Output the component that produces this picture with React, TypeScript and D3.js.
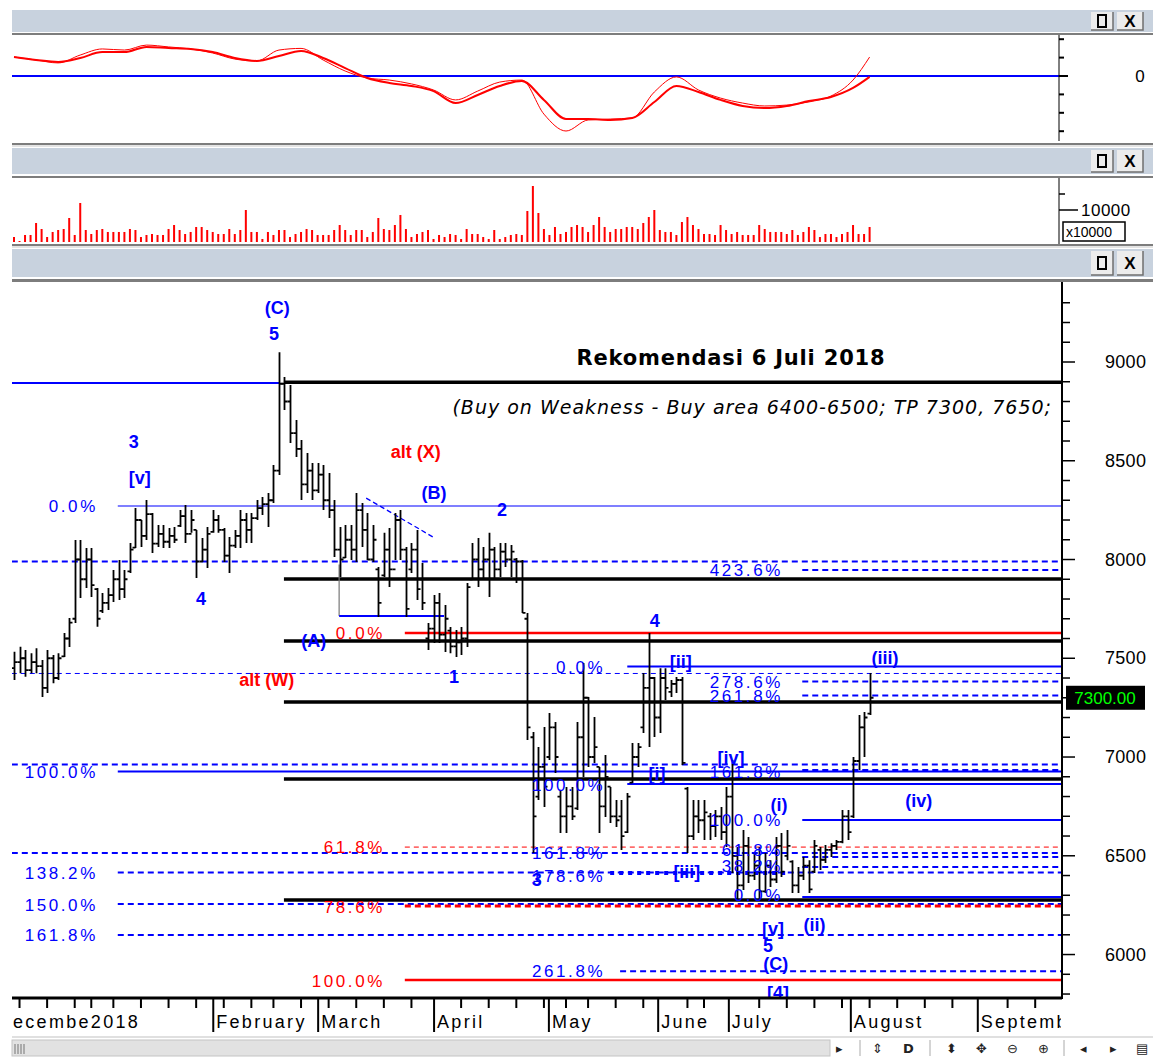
import React from "react";
import * as d3 from "d3";

// daily bars, Dec 2017 .. Aug 2018 (index = trading day)
const highs = [
  7533, 7558, 7542, 7526, 7551, 7491, 7542, 7516, 7526, 7628,
  7704, 8099, 8099, 8058, 8058, 7856, 7830, 7856, 7947, 7997,
  7947, 8084, 8261, 8200, 8301, 8236, 8175, 8175, 8160, 8165,
  8251, 8276, 8251, 8150, 8109, 8165, 8251, 8226, 8160, 8114,
  8150, 8251, 8236, 8236, 8301, 8316, 8337, 8478, 9050, 8924,
  8884, 8706, 8605, 8539, 8489, 8489, 8478, 8438, 8301, 8165,
  8175, 8175, 8337, 8286, 8236, 8175, 7962, 8135, 8160, 8236,
  8251, 8063, 8084, 8150, 7982, 7679, 7820, 7830, 7770, 7658,
  7643, 7658, 7881, 8084, 8109, 8063, 8135, 8063, 8084, 8084,
  8073, 8008, 7997, 7729, 7127, 7051, 7152, 7223, 7177, 6833,
  6848, 6848, 7177, 7476, 7304, 7203, 6950, 7010, 6848, 6782,
  6782, 6818, 7071, 7071, 7425, 7628, 7405, 7450, 7450, 7390,
  7405, 7405, 6848, 6782, 6782, 6782, 6716, 6732, 6747, 6848,
  6985, 6544, 6630, 6595, 6514, 6544, 6514, 6478, 6595, 6615,
  6630, 6478, 6443, 6494, 6478, 6580, 6544, 6554, 6564, 6580,
  6732, 6732, 7000, 7213, 7228, 7425,
];
const lows = [
  7390, 7424, 7407, 7424, 7424, 7304, 7324, 7374, 7390, 7506,
  7557, 7679, 7805, 7856, 7810, 7659, 7729, 7744, 7785, 7795,
  7805, 7932, 8058, 8063, 8099, 8033, 8063, 8058, 8058, 8084,
  8165, 8084, 8135, 7907, 7987, 7957, 8135, 8135, 7987, 7932,
  8058, 8058, 8084, 8084, 8200, 8226, 8165, 8286, 8428, 8757,
  8590, 8519, 8301, 8337, 8301, 8337, 8251, 8210, 8013, 7911,
  8008, 7997, 7987, 8063, 7997, 7987, 7709, 7911, 7861, 7997,
  7997, 7709, 7932, 7795, 7744, 7542, 7577, 7577, 7532, 7526,
  7506, 7516, 7557, 7896, 7861, 7896, 7810, 7896, 7911, 7962,
  7911, 7881, 7729, 7086, 6514, 6782, 6747, 6985, 6919, 6615,
  6615, 6681, 6732, 6899, 6950, 6970, 6615, 6696, 6666, 6646,
  6529, 6615, 6869, 6950, 7122, 7051, 7102, 7122, 7289, 7304,
  7324, 6960, 6514, 6580, 6615, 6580, 6580, 6595, 6580, 6544,
  6413, 6276, 6327, 6362, 6377, 6276, 6311, 6342, 6362, 6392,
  6478, 6311, 6311, 6377, 6311, 6413, 6428, 6463, 6494, 6529,
  6564, 6580, 6691, 6934, 7000, 7213,
];
const opens = [
  7450, 7480, 7500, 7440, 7480, 7460, 7350, 7500, 7400, 7510,
  7600, 7700, 8000, 7900, 8000, 7850, 7740, 7780, 7820, 7900,
  7850, 7940, 8060, 8200, 8120, 8230, 8080, 8130, 8090, 8120,
  8170, 8220, 8130, 8150, 7990, 8050, 8140, 8200, 8150, 8020,
  8070, 8120, 8200, 8150, 8210, 8260, 8280, 8300, 8450, 8890,
  8800, 8640, 8560, 8380, 8450, 8350, 8430, 8300, 8250, 8050,
  8010, 8100, 8050, 8250, 8150, 8000, 7950, 7920, 8050, 7950,
  8200, 8050, 7950, 8050, 7900, 7600, 7650, 7780, 7620, 7640,
  7560, 7580, 7600, 7900, 8000, 7950, 8000, 8050, 7950, 8040,
  8000, 8000, 7990, 7700, 7100, 6800, 6950, 7000, 7150, 6800,
  6700, 6750, 6740, 7100, 7300, 7000, 6950, 6750, 6850, 6700,
  6700, 6620, 6870, 7000, 7150, 7350, 7400, 7200, 7400, 7330,
  7370, 7390, 6840, 6600, 6700, 6680, 6700, 6650, 6700, 6620,
  6800, 6500, 6350, 6550, 6400, 6450, 6320, 6450, 6380, 6550,
  6500, 6470, 6350, 6400, 6450, 6420, 6530, 6480, 6530, 6550,
  6570, 6700, 6700, 6980, 7150, 7220,
];
const closes = [
  7480, 7500, 7440, 7480, 7460, 7350, 7500, 7400, 7500, 7600,
  7680, 8000, 7900, 8000, 7870, 7700, 7780, 7820, 7900, 7850,
  7900, 8050, 8200, 8120, 8230, 8080, 8130, 8090, 8120, 8100,
  8220, 8130, 8200, 7990, 8050, 8130, 8200, 8150, 8020, 8070,
  8120, 8200, 8150, 8210, 8260, 8280, 8300, 8450, 8890, 8800,
  8640, 8560, 8380, 8450, 8350, 8430, 8300, 8250, 8050, 8000,
  8100, 8050, 8250, 8150, 8000, 8100, 7780, 8050, 7950, 8200,
  8050, 7750, 8050, 7850, 7780, 7650, 7780, 7620, 7700, 7560,
  7580, 7600, 7860, 8000, 7950, 8000, 8050, 7950, 8040, 8000,
  8040, 7990, 7730, 7150, 6700, 6950, 6850, 7150, 7000, 6700,
  6750, 6700, 7100, 7300, 7000, 7050, 6750, 6900, 6700, 6680,
  6600, 6800, 7000, 7050, 7350, 7400, 7200, 7400, 7350, 7370,
  7390, 6970, 6600, 6700, 6680, 6720, 6650, 6700, 6620, 6800,
  6500, 6350, 6550, 6400, 6450, 6320, 6450, 6380, 6550, 6420,
  6550, 6350, 6400, 6450, 6330, 6550, 6480, 6530, 6550, 6570,
  6700, 6620, 6980, 7150, 7200, 7300,
];
const volumes = [
  1560, 310, 2190, 2190, 5940, 4060, 1560, 3130, 3750, 4060,
  7500, 2190, 12190, 3750, 2500, 3750, 4060, 3130, 3130, 3130,
  3130, 4060, 3750, 1560, 2190, 2500, 2190, 2190, 4060, 5310,
  3750, 2500, 3130, 4690, 4690, 3750, 3130, 2500, 2500, 4060,
  2500, 3750, 10000, 3130, 3130, 940, 3130, 2190, 3750, 3750,
  1560, 2500, 3130, 4060, 3750, 2190, 2190, 2190, 3750, 5310,
  3750, 2190, 3750, 3750, 1560, 3130, 7500, 4060, 3750, 5310,
  8440, 4060, 1560, 2500, 3130, 3750, 940, 2190, 1560, 2500,
  2190, 940, 4060, 2500, 2500, 1560, 940, 3750, 940, 1560,
  2190, 2500, 2190, 9690, 17500, 9060, 4060, 2190, 4690, 2500,
  3130, 4690, 5310, 4690, 3130, 5310, 7810, 4690, 3130, 4060,
  4060, 4690, 4690, 4060, 5940, 7810, 10000, 3750, 3130, 3130,
  2190, 6250, 7810, 5310, 4060, 2500, 2500, 2190, 5310, 3750,
  2500, 3130, 2190, 2190, 2190, 5310, 4060, 3130, 3130, 3130,
  2500, 3750, 2190, 3130, 4690, 3750, 1560, 2500, 2500, 1560,
  2500, 3130, 5310, 2500, 2500, 4690,
];

// oscillator, sampled every 4 bars
const oscIdx = [0, 4, 8, 12, 16, 20, 24, 28, 32, 36, 40, 44, 48, 52, 56, 60, 64, 68, 72, 76,
  80, 84, 88, 92, 96, 100, 104, 108, 112, 116, 120, 124, 128, 132, 136, 140, 144, 148, 152, 155];
const oscFast = [103, 87, 71, 114, 147, 141, 168, 158, 147, 125, 92, 82, 141, 150, 87, 27, -11, -22, -43, -76,
  -130, -82, -33, -22, -207, -299, -239, -234, -228, -87, -5, -76, -120, -147, -163, -158, -141, -109, -22, 103];
const oscSlow = [103, 87, 76, 98, 130, 130, 158, 152, 147, 130, 98, 82, 109, 136, 98, 43, -11, -38, -54, -82,
  -147, -103, -54, -27, -130, -234, -234, -239, -228, -141, -54, -87, -130, -163, -174, -163, -136, -114, -65, -5];
const oscTicks = [-300, -200, -100, 0, 100, 200];

const priceLabels = [6000, 6500, 7000, 7500, 8000, 8500, 9000];
const volTicks = [10000, 15000];

const monthLabels = ["February", "March", "April", "May", "June", "July", "August", "September"];
const monthStarts = [36.1, 55.1, 76.1, 96.9, 116.7, 129.5, 151.6, 174.6];
const weekTicks = [1, 6, 11, 14, 18, 23, 28, 33, 38, 43, 47, 52, 57, 62, 67, 72, 81, 86, 91, 96,
  100, 104, 109, 114, 122, 125, 135, 140, 145, 150, 155, 160, 165, 170, 180, 185];

// horizontal levels: price, from bar, to bar (null = right edge), kind
const levels: [number, number, number | null, string][] = [
  [8894, -0.4, 48.2, "blue2"],
  [8897, 48.9, null, "black"],
  [8271, 18.8, null, "blue1"],
  [7990, -0.4, null, "blueDash2"],
  [7947, 142.8, null, "blueDash2"],
  [7901, 48.9, null, "black"],
  [7628, 70.8, null, "red2"],
  [7587, 48.9, null, "black"],
  [7423, -0.4, null, "blueDash1"],
  [7458, 111.1, null, "blue2"],
  [7382, 142.8, null, "blueDash2"],
  [7311, 142.8, null, "blueDash2"],
  [7279, 48.9, null, "black"],
  [6962, -0.4, null, "blueDash2"],
  [6927, 18.8, null, "blue2"],
  [6934, 142.8, null, "blueDash2"],
  [6889, 48.9, null, "black"],
  [6863, 111.1, null, "blue2"],
  [6681, 142.8, null, "blue2"],
  [6544, 70.8, null, "redDash1"],
  [6514, -0.4, null, "blueDash2"],
  [6494, 142.8, null, "blueDash2"],
  [6443, 142.8, null, "blueDash2"],
  [6415, 18.8, null, "blueDash2"],
  [6413, 108, 140, "blueDot"],
  [6291, 142.8, null, "blue2"],
  [6276, 48.9, null, "black"],
  [6256, 18.8, null, "blueDash2"],
  [6246, 70.8, null, "redDash3"],
  [6099, 18.8, null, "blueDash2"],
  [5916, 109.8, null, "blueDash2"],
  [5871, 70.8, null, "red2"],
];

// fibonacci labels: text, right-edge bar, price, colour
const pctLabels: [string, number, number, string][] = [
  ["0.0%", 15.2, 8271, "b"],
  ["423.6%", 139.3, 7947, "b"],
  ["0.0%", 67.2, 7628, "r"],
  ["0.0%", 107.1, 7458, "b"],
  ["278.6%", 139.3, 7382, "b"],
  ["261.8%", 139.3, 7311, "b"],
  ["100.0%", 15.2, 6927, "b"],
  ["161.8%", 139.3, 6924, "b"],
  ["100.0%", 107.1, 6858, "b"],
  ["100.0%", 139.3, 6681, "b"],
  ["61.8%", 67.2, 6544, "r"],
  ["61.8%", 139.3, 6529, "b"],
  ["161.8%", 107.1, 6514, "b"],
  ["38.2%", 139.3, 6448, "b"],
  ["138.2%", 15.2, 6413, "b"],
  ["178.6%", 107.1, 6397, "b"],
  ["0.0%", 139.3, 6300, "b"],
  ["150.0%", 15.2, 6251, "b"],
  ["78.6%", 67.2, 6241, "r"],
  ["161.8%", 15.2, 6099, "b"],
  ["261.8%", 107.1, 5916, "b"],
  ["100.0%", 67.2, 5866, "r"],
];

// elliott wave marks: text, bar, price, colour
const waveLabels: [string, number, number, string][] = [
  ["(C)", 47.7, 9278, "b"], ["5", 47.1, 9142, "b"],
  ["3", 21.7, 8595, "b"], ["[v]", 22.8, 8413, "b"],
  ["4", 33.9, 7805, "b"], ["alt (X)", 72.8, 8549, "r"],
  ["(B)", 76.1, 8337, "b"], ["2", 88.4, 8251, "b"],
  ["(A)", 54.3, 7592, "b"], ["1", 79.7, 7410, "b"],
  ["alt (W)", 45.8, 7390, "r"], ["4", 116.1, 7693, "b"],
  ["[ii]", 120.8, 7486, "b"], ["(iii)", 157.8, 7506, "b"],
  ["[iv]", 129.9, 7000, "b"], ["[i]", 116.5, 6914, "b"],
  ["(iv)", 163.9, 6782, "b"], ["(i)", 138.6, 6762, "b"],
  ["[iii]", 121.9, 6418, "b"], ["3", 94.7, 6382, "b"],
  ["[v]", 137.5, 6134, "b"], ["5", 136.6, 6048, "b"],
  ["(C)", 138, 5957, "b"], ["[4]", 138.4, 5810, "b"],
  ["(ii)", 145, 6154, "b"],
];

const BLUE = "#0000ff";
const RED = "#ff0000";
const HEAD = "#c8d2de";
const SANS = "'Liberation Sans', Arial, sans-serif";
const VERD = "'DejaVu Sans', Verdana, sans-serif";

const styles: Record<string, { c: string; w: number; d?: string }> = {
  black: { c: "#000", w: 3.5 },
  blue2: { c: BLUE, w: 2 },
  blue1: { c: BLUE, w: 1.2 },
  blueDash2: { c: BLUE, w: 2, d: "6 4" },
  blueDash1: { c: BLUE, w: 1, d: "5 4" },
  red2: { c: RED, w: 2.5 },
  redDash1: { c: RED, w: 1, d: "5 4" },
  redDash3: { c: RED, w: 3, d: "6 4" },
  blueDot: { c: BLUE, w: 4, d: "4 5" },
};

function Header({ y, h }: { y: number; h: number }) {
  return (
    <g>
      <rect x={12} y={y} width={1141} height={h} fill={HEAD} />
      <rect x={1091} y={y + 2} width={22} height={h - 4} fill="#ececec" />
      <path d={`M1091,${y + h - 2}H1113V${y + 2}`} stroke="#6f6f6f" strokeWidth={1.5} fill="none" />
      <rect x={1098} y={y + h / 2 - 6} width={8} height={12} fill="none" stroke="#000" strokeWidth={2} />
      <rect x={1117} y={y + 2} width={26} height={h - 4} fill="#ececec" />
      <path d={`M1117,${y + h - 2}H1143V${y + 2}`} stroke="#6f6f6f" strokeWidth={1.5} fill="none" />
      <text x={1130} y={y + h / 2 + 6} textAnchor="middle" fontFamily={SANS} fontWeight="bold" fontSize={17}>X</text>
    </g>
  );
}

export default function App() {
  const x = d3.scaleLinear().domain([0, 155]).range([14, 869.6]);
  const yP = d3.scaleLinear().domain([5785, 9400]).range([997, 283]);
  const yO = d3.scaleLinear().domain([-300, 200]).range([131.2, 39.2]);
  const yV = d3.scaleLinear().domain([0, 10000]).range([242, 210]);
  const XR = 1061;

  const oscLine = (vals: number[]) =>
    d3.line<number>().curve(d3.curveMonotoneX).x((_, i) => x(oscIdx[i])).y((v) => yO(v))(vals) || "";

  const minorTicks = d3.range(5800, 9400, 100);

  return (
    <svg width={1153} height={1057} style={{ position: "absolute", left: 0, top: 0, background: "#fff" }}
      fontFamily={SANS}>
      <defs>
        <clipPath id="plot"><rect x={12} y={282} width={XR - 12} height={716} /></clipPath>
        <clipPath id="xax"><rect x={12} y={998} width={XR - 12} height={40} /></clipPath>
      </defs>

      {/* ---------- oscillator panel ---------- */}
      <Header y={10} h={22} />
      <rect x={12} y={33} width={1141} height={2} fill="#7d7d7d" />
      <line x1={12} x2={1059} y1={yO(0)} y2={yO(0)} stroke={BLUE} strokeWidth={2} />
      <path d={oscLine(oscSlow)} fill="none" stroke={RED} strokeWidth={2} />
      <path d={oscLine(oscFast)} fill="none" stroke={RED} strokeWidth={1} />
      <line x1={1059} x2={1059} y1={35} y2={141} stroke="#000" />
      {oscTicks.map((t) => (
        <line key={t} x1={1059} x2={t === 0 ? 1068 : 1064} y1={yO(t)} y2={yO(t)} stroke="#000" strokeWidth={2} />
      ))}
      <text x={1140} y={yO(0) + 6} textAnchor="middle" fontSize={17}>0</text>
      <rect x={12} y={143} width={1141} height={2} fill="#7d7d7d" />
      <rect x={12} y={145} width={1141} height={2} fill="#e4e4e4" />

      {/* ---------- volume panel ---------- */}
      <Header y={148} h={26} />
      <rect x={12} y={176} width={1141} height={2} fill="#7d7d7d" />
      {volumes.map((v, i) => (
        <rect key={i} x={x(i) - 1} y={yV(v)} width={2} height={yV(0) - yV(v)} fill={RED} />
      ))}
      <line x1={1059} x2={1059} y1={178} y2={244} stroke="#000" />
      {volTicks.map((t) => (
        <line key={t} x1={1059} x2={t === 10000 ? 1078 : 1065} y1={yV(t)} y2={yV(t)} stroke="#000" strokeWidth={1.5} />
      ))}
      <text x={1081} y={yV(10000) + 6} fontSize={17} letterSpacing={0.5}>10000</text>
      <rect x={1063} y={222} width={62} height={19} fill="#fff" stroke="#000" strokeWidth={1.5} />
      <text x={1066} y={237} fontSize={14}>x10000</text>
      <rect x={12} y={244} width={1141} height={2} fill="#7d7d7d" />
      <rect x={12} y={246} width={1141} height={2} fill="#e4e4e4" />

      {/* ---------- price panel ---------- */}
      <Header y={249} h={28} />
      <rect x={12} y={279} width={1141} height={3} fill="#7d7d7d" />

      <g clipPath="url(#plot)">
        {levels.map(([p, from, to, kind], i) => {
          const s = styles[kind];
          return (
            <line key={i} x1={x(from)} x2={to === null ? XR : x(to)} y1={yP(p)} y2={yP(p)}
              stroke={s.c} strokeWidth={s.w} strokeDasharray={s.d} />
          );
        })}
        {/* (A) box and B-wave trendline */}
        <line x1={x(58.9)} x2={x(58.9)} y1={yP(7975)} y2={yP(7714)} stroke="#777" strokeWidth={1.2} />
        <line x1={x(58.9)} x2={x(77.9)} y1={yP(7714)} y2={yP(7714)} stroke={BLUE} strokeWidth={2} />
        <line x1={x(63.8)} x2={x(75.9)} y1={yP(8311)} y2={yP(8114)} stroke={BLUE} strokeWidth={1.3} strokeDasharray="5 3" />

        {highs.map((h, i) => {
          const cx = Math.round(x(i)) + 0.5;
          return (
            <path key={i}
              d={`M${cx},${yP(h)}V${yP(lows[i])}M${cx - 3},${yP(opens[i])}H${cx}M${cx},${yP(closes[i])}H${cx + 3}`}
              stroke="#000" strokeWidth={1.8} fill="none" />
          );
        })}

        {pctLabels.map(([t, b, p, c], i) => (
          <text key={i} x={x(b)} y={yP(p)} dy="0.36em" textAnchor="end" fontSize={17} letterSpacing={2.6}
            fill={c === "r" ? RED : BLUE}>{t}</text>
        ))}
        {waveLabels.map(([t, b, p, c], i) => (
          <text key={i} x={x(b)} y={yP(p)} dy="0.36em" textAnchor="middle" fontSize={18} fontWeight="bold"
            fill={c === "r" ? RED : BLUE}>{t}</text>
        ))}

        <text x={731} y={365} textAnchor="middle" fontFamily={VERD} fontWeight="bold"
          fontSize={21} letterSpacing={0.8}>Rekomendasi 6 Juli 2018</text>
        <text x={1052} y={414} textAnchor="end" fontFamily={VERD} fontStyle="italic"
          fontSize={19} letterSpacing={1}>(Buy on Weakness - Buy area 6400-6500; TP 7300, 7650;</text>
      </g>

      {/* price axis */}
      <line x1={1062} x2={1062} y1={282} y2={999} stroke="#000" strokeWidth={2} />
      {minorTicks.map((t) => (
        <line key={t} x1={1062} x2={t % 500 === 0 ? 1075 : 1070} y1={yP(t)} y2={yP(t)} stroke="#000" strokeWidth={1.5} />
      ))}
      {priceLabels.map((t) => (
        <text key={t} x={1105} y={yP(t) + 6} fontSize={18} letterSpacing={0.3}>{t}</text>
      ))}
      <rect x={1066} y={yP(7300) - 12} width={79} height={24} fill="#000" />
      <text x={1105} y={yP(7300) + 6} textAnchor="middle" fontSize={17} fill="#00ff00">
        {closes[closes.length - 1].toFixed(2)}
      </text>

      {/* time axis */}
      <line x1={12} x2={1062} y1={998} y2={998} stroke="#000" strokeWidth={3} />
      <g clipPath="url(#xax)">
        {weekTicks.map((t) => (
          <line key={t} x1={x(t)} x2={x(t)} y1={998} y2={1008} stroke="#000" strokeWidth={2} />
        ))}
        {monthStarts.map((m) => (
          <line key={m} x1={x(m)} x2={x(m)} y1={998} y2={1032} stroke="#000" strokeWidth={2} />
        ))}
        <text x={13} y={1028} fontSize={18} letterSpacing={2.3}>ecembe2018</text>
        {monthLabels.map((m, i) => (
          <text key={m} x={x(monthStarts[i]) + 3} y={1028} fontSize={18} letterSpacing={2.3}>{m}</text>
        ))}
      </g>

      {/* scroll bar */}
      <rect x={12} y={1036} width={1141} height={2} fill="#e0e0e0" />
      <rect x={12} y={1040} width={818} height={16} fill="#e2e2e2" stroke="#c4c4c4" />
      {[15, 18, 21, 24].map((g) => (
        <line key={g} x1={g} x2={g} y1={1044} y2={1054} stroke="#999" strokeWidth={1.5} />
      ))}
      <g fontFamily="'DejaVu Sans', sans-serif" fontSize={13} fill="#222">
        <text x={836} y={1053}>▸</text>
        <line x1={860} x2={860} y1={1040} y2={1056} stroke="#aaa" />
        <text x={872} y={1053}>⇕</text>
        <text x={903} y={1053} fontWeight="bold">D</text>
        <line x1={930} x2={930} y1={1040} y2={1056} stroke="#aaa" />
        <text x={946} y={1053}>⬍</text>
        <text x={976} y={1053}>✥</text>
        <text x={1007} y={1053}>⊖</text>
        <text x={1038} y={1053}>⊕</text>
        <line x1={1064} x2={1064} y1={1040} y2={1056} stroke="#aaa" />
        <text x={1080} y={1053}>◂</text>
        <text x={1110} y={1053}>▸</text>
        <text x={1136} y={1053}>▤</text>
      </g>
    </svg>
  );
}
